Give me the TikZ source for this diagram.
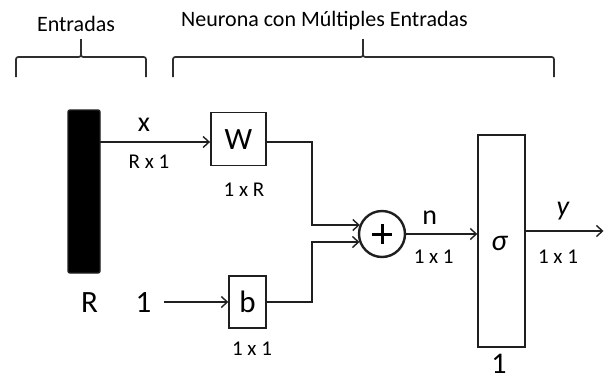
\documentclass[tikz,border=0pt]{standalone}
\usepackage{fontspec}
\setmainfont{Carlito}
\usetikzlibrary{arrows.meta,calc}
\begin{document}
\begin{tikzpicture}[x=1pt,y=-1pt,
  conn/.style={line width=1.7pt, draw=black!88},
  arr/.style={conn,-{Straight Barb[length=6pt,width=11pt,line width=1.4pt]}},
  blk/.style={draw=black!88,line width=1.4pt,inner sep=0pt},
  big/.style={font=\fontsize{31}{31}\selectfont},
  mid/.style={font=\fontsize{28}{28}\selectfont},
  small/.style={font=\fontsize{21}{21}\selectfont},
  hdr/.style={font=\fontsize{22}{22}\selectfont},
  lbl/.style={anchor=base,inner sep=0pt},
  bracepath/.style={line width=1.7pt, draw=black!82, line join=round}]
\useasboundingbox (0,0) rectangle (605,381);

% headers and braces
\node[lbl,hdr] (hin) at (76,31) {Entradas};
\node[lbl,hdr] (hneu) at (324.5,26.5) {Neurona con Múltiples Entradas};
\draw[bracepath] (16,77) -- (16,62) .. controls (16,57) .. (21,57) -- (76,57) .. controls (81,57) .. (81,52) -- (81,39);
\draw[bracepath] (81,52) .. controls (81,57) .. (86,57) -- (141,57) .. controls (146,57) .. (146,62) -- (146,77);
\draw[bracepath] (173,77) -- (173,62) .. controls (173,57) .. (178,57) -- (358,57) .. controls (363,57) .. (363,52) -- (363,39);
\draw[bracepath] (363,52) .. controls (363,57) .. (368,57) -- (549,57) .. controls (554,57) .. (554,62) -- (554,77);

% blocks
\node[blk, fill=black, rounded corners=2pt, minimum width=32pt, minimum height=163pt] (bar) at (84,191.5) {};
\node[blk, minimum width=55pt, minimum height=53pt, big] (W) at (238.3,139.2) {W};
\node[blk, minimum width=37pt, minimum height=52pt, big] (b) at (247.5,302) {b};
\node[draw=black!88, line width=2.4pt, circle, minimum size=46pt, inner sep=0pt] (sum) at (382,234) {};
\draw[line width=3pt] ($(sum.center)+(-10,0)$) -- ($(sum.center)+(10,0)$);
\draw[line width=3pt] ($(sum.center)+(0,-10)$) -- ($(sum.center)+(0,10)$);
\node[blk, minimum width=47pt, minimum height=212pt] (sig) at (501.5,241) {};

% labels
\node[lbl,mid] (lx) at (144,131) {x};
\node[lbl,small] (lRx1) at (149,168) {R x 1};
\node[lbl,small] (l1xR) at (244,196) {1 x R};
\node[lbl,big] (lR) at (89.5,312) {R};
\node[lbl,big] (lone) at (143.5,312) {1};
\node[lbl,small] (l1x1b) at (252,355) {1 x 1};
\node[lbl,mid] (ln) at (429.7,224) {n};
\node[lbl,small] (l1x1n) at (433.7,263) {1 x 1};
\node[lbl,font=\itshape\fontsize{30}{30}\selectfont] (lsig) at (499.3,250) {σ};
\node[lbl,font=\itshape\fontsize{28}{28}\selectfont] (ly) at (563,215) {y};
\node[lbl,small] (l1x1y) at (558,263) {1 x 1};
\node[lbl,font=\fontsize{30}{30}\selectfont] (lone2) at (499,373) {1};

% connectors
\coordinate (xin) at (100,142);
\coordinate (j) at (312,0);
\coordinate (sumA) at (359.8,225);
\coordinate (sumB) at (359.5,242);
\coordinate (bin) at (164,302);
\coordinate (yout) at (603.5,231);
\draw[arr] (xin) -- (W.west |- xin);
\draw[arr] (W.east |- xin) -- (j |- xin) -- (j |- sumA) -- (sumA);
\draw[arr] (bin) -- (b.west);
\draw[arr] (b.east) -- (j |- b.east) -- (j |- sumB) -- (sumB);
\draw[arr] (sum.east) -- (sig.west |- sum.east);
\draw[arr] (sig.east |- yout) -- (yout);
\end{tikzpicture}
\end{document}
